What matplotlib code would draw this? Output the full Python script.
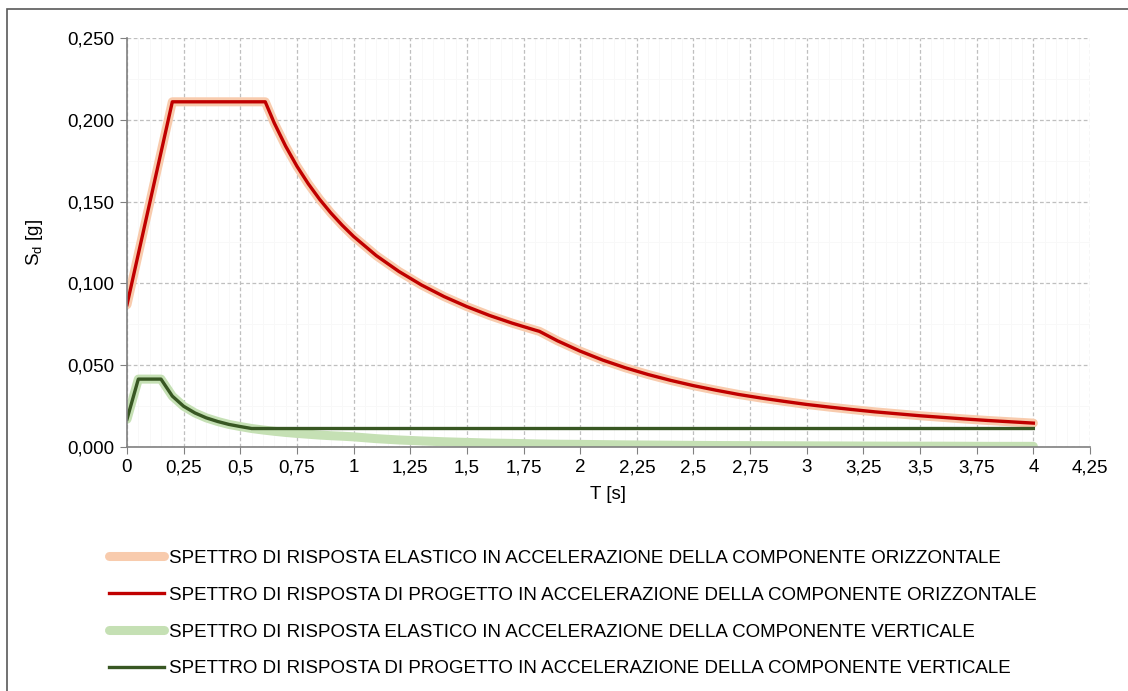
import matplotlib.pyplot as plt
from matplotlib.ticker import MultipleLocator, FuncFormatter
from matplotlib.patches import Rectangle

plt.rcParams['font.family'] = ['Liberation Sans', 'DejaVu Sans']

# periods [s] and spectral ordinates [g]
T_h = [0, 0.05, 0.10, 0.15, 0.20, 0.30, 0.40, 0.50, 0.61, 0.65, 0.70, 0.75,
       0.80, 0.85, 0.90, 0.95, 1.0, 1.1, 1.2, 1.3, 1.4, 1.5, 1.6, 1.7, 1.8,
       1.82, 1.9, 2.0, 2.1, 2.2, 2.3, 2.4, 2.5, 2.6, 2.7, 2.8, 2.9, 3.0, 3.1,
       3.2, 3.3, 3.4, 3.5, 3.6, 3.7, 3.8, 3.9, 4.0]
Sh_el = [0.087, 0.118, 0.149, 0.180, 0.211, 0.211, 0.211, 0.211, 0.211, 0.198,
         0.1839, 0.1716, 0.1609, 0.1514, 0.1430, 0.1355, 0.1287, 0.1170, 0.1073,
         0.0990, 0.0919, 0.0858, 0.0804, 0.0757, 0.0715, 0.0707, 0.0649, 0.0586,
         0.0531, 0.0484, 0.0443, 0.0407, 0.0375, 0.0347, 0.0321, 0.0299, 0.0279,
         0.0260, 0.0244, 0.0229, 0.0215, 0.0203, 0.0191, 0.0181, 0.0171, 0.0162,
         0.0154, 0.0146]
Sh_pr = [0.087, 0.118, 0.149, 0.180, 0.211, 0.211, 0.211, 0.211, 0.211, 0.198,
         0.1839, 0.1716, 0.1609, 0.1514, 0.1430, 0.1355, 0.1287, 0.1170, 0.1073,
         0.0990, 0.0919, 0.0858, 0.0804, 0.0757, 0.0715, 0.0707, 0.0649, 0.0586,
         0.0531, 0.0484, 0.0443, 0.0407, 0.0375, 0.0347, 0.0321, 0.0299, 0.0279,
         0.0260, 0.0244, 0.0229, 0.0215, 0.0203, 0.0191, 0.0181, 0.0171, 0.0162,
         0.0154, 0.0146]

T_v = [0, 0.05, 0.10, 0.15, 0.20, 0.25, 0.30, 0.35, 0.40, 0.45, 0.50, 0.55,
       0.60, 0.65, 0.70, 0.75, 0.80, 0.85, 0.90, 0.95, 1.0, 1.1, 1.2, 1.3,
       1.4, 1.5, 1.6, 1.7, 1.8, 1.9, 2.0, 2.2, 2.4, 2.6, 2.8, 3.0, 3.2, 3.4,
       3.6, 3.8, 4.0]
Sv_el = [0.017, 0.0415, 0.0415, 0.0415, 0.0311, 0.0249, 0.0208, 0.0178, 0.0156,
         0.0138, 0.0125, 0.0113, 0.0104, 0.0096, 0.0089, 0.0083, 0.0078, 0.0073,
         0.0069, 0.0066, 0.0062, 0.0051, 0.0043, 0.0037, 0.0032, 0.0028, 0.0024,
         0.0022, 0.0019, 0.0017, 0.0016, 0.0013, 0.0011, 0.0009, 0.0008, 0.0007,
         0.0006, 0.0005, 0.0005, 0.0004, 0.0004]
Sv_pr = [0.017, 0.0415, 0.0415, 0.0415, 0.0311, 0.0249, 0.0208, 0.0178, 0.0156,
         0.0138, 0.0125, 0.0113, 0.0113, 0.0113, 0.0113, 0.0113, 0.0113, 0.0113,
         0.0113, 0.0113, 0.0113, 0.0113, 0.0113, 0.0113, 0.0113, 0.0113, 0.0113,
         0.0113, 0.0113, 0.0113, 0.0113, 0.0113, 0.0113, 0.0113, 0.0113, 0.0113,
         0.0113, 0.0113, 0.0113, 0.0113, 0.0113]

labels = ["SPETTRO DI RISPOSTA ELASTICO IN ACCELERAZIONE DELLA COMPONENTE ORIZZONTALE",
          "SPETTRO DI RISPOSTA DI PROGETTO IN ACCELERAZIONE DELLA COMPONENTE ORIZZONTALE",
          "SPETTRO DI RISPOSTA ELASTICO IN ACCELERAZIONE DELLA COMPONENTE VERTICALE",
          "SPETTRO DI RISPOSTA DI PROGETTO IN ACCELERAZIONE DELLA COMPONENTE VERTICALE"]

fs = 13.5

fig = plt.figure(figsize=(11.28, 6.91), dpi=100)
ax = fig.add_axes([127 / 1128, 1 - 447 / 691, (1090 - 127) / 1128, (447 - 38) / 691])

# chart-area border (only left and top visible in the crop)
fig.patches.append(Rectangle((7 / 1128, -0.1), 1.2, 1 - 9 / 691 + 0.1, transform=fig.transFigure,
                             fill=False, edgecolor='#595959', linewidth=1.2))

l1, = ax.plot(T_h, Sh_el, color='#f8cbad', lw=6.5, solid_capstyle='round', solid_joinstyle='round')
l2, = ax.plot(T_h, Sh_pr, color='#c00000', lw=2.4, solid_joinstyle='round')
l3, = ax.plot(T_v, Sv_el, color='#c5e0b4', lw=6.5, solid_capstyle='round', solid_joinstyle='round')
l4, = ax.plot(T_v, Sv_pr, color='#385723', lw=2.4, solid_joinstyle='round')

ax.set_xlim(0, 4.25)
ax.set_ylim(0, 0.25)
ax.xaxis.set_major_locator(MultipleLocator(0.25))
ax.yaxis.set_major_locator(MultipleLocator(0.05))
ax.xaxis.set_minor_locator(MultipleLocator(0.05))
ax.yaxis.set_minor_locator(MultipleLocator(0.025))
ax.xaxis.set_major_formatter(FuncFormatter(lambda v, p: ('%g' % v).replace('.', ',')))
ax.yaxis.set_major_formatter(FuncFormatter(lambda v, p: ('%.3f' % v).replace('.', ',')))

ax.grid(which='major', color='#bfbfbf', linestyle=(0, (3, 2)), linewidth=0.9)
ax.grid(which='minor', color='#f8f8f8', linestyle='-', linewidth=0.7)
ax.set_axisbelow(True)
for s in ['top', 'right']:
    ax.spines[s].set_visible(False)
for s in ['left', 'bottom']:
    ax.spines[s].set_color('#808080')
    ax.spines[s].set_linewidth(1.2)
ax.tick_params(which='major', direction='out', length=5, color='#808080', labelsize=fs,
               labelcolor='black', pad=4)
ax.tick_params(which='minor', length=0)

ax.set_xlabel('T [s]', fontsize=fs, labelpad=7)
ax.set_ylabel('S$_\\mathregular{d}$ [g]', fontsize=fs, labelpad=16)

fig.legend([l1, l2, l3, l4], labels, loc='upper left', bbox_to_anchor=(92 / 1128, 1 - 533 / 691),
           frameon=False, fontsize=fs, handlelength=2.95, handletextpad=0.27, labelspacing=1.05)

fig.savefig('out.png', dpi=100)
